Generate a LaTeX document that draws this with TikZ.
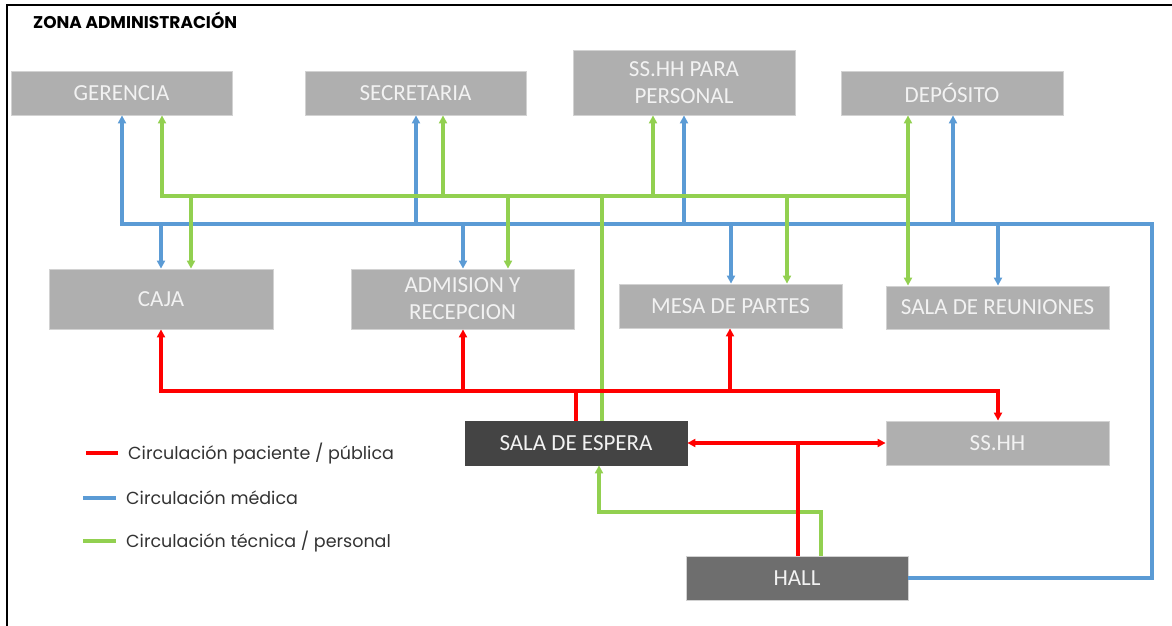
\documentclass[tikz,border=0pt]{standalone}
\usepackage{fontspec}
\setmainfont{Carlito}
\newfontfamily\legfont{Poppins}
\usetikzlibrary{arrows.meta}
\definecolor{boxgray}{HTML}{AFAFAF}
\definecolor{boxedge}{HTML}{D2D2D2}
\definecolor{boxtext}{HTML}{F2F2F2}
\definecolor{darkbox}{HTML}{444444}
\definecolor{hallbox}{HTML}{6E6E6E}
\definecolor{cred}{HTML}{FF0000}
\definecolor{cblue}{HTML}{5B9BD5}
\definecolor{cgreen}{HTML}{92D050}
\definecolor{legtext}{HTML}{333333}
\begin{document}
\begin{tikzpicture}[x=1pt,y=-1pt,
  room/.style={rectangle,fill=boxgray,draw=boxedge,line width=0.8pt,inner sep=0pt,
    text=boxtext,font=\fontsize{23}{27}\selectfont,align=center},
  darkroom/.style={room,fill=darkbox,draw=darkbox},
  hallroom/.style={room,fill=hallbox,draw=boxedge},
  flow/.style={line width=3.3pt,line join=miter},
  tip/.style={-{Triangle[length=8pt,width=8pt]}},
  tips/.style={{Triangle[length=8pt,width=8pt]}-{Triangle[length=8pt,width=8pt]}},
  pac/.style={flow,draw=cred},
  med/.style={flow,draw=cblue},
  tec/.style={flow,draw=cgreen},
  legline/.style={line width=3.3pt},
  legend/.style={anchor=west,inner sep=0pt,text=legtext,font=\legfont\fontsize{17.5}{20}\selectfont}]
\useasboundingbox (0,0) rectangle (1172,626);
\fill[white] (0,0) rectangle (1172,626);
% frame
\draw[line width=2pt] (7,626) -- (7,5) -- (1172,5);
\node[anchor=west,inner sep=0pt,font=\legfont\bfseries\fontsize{17}{19}\selectfont] (title) at (33,20) {ZONA ADMINISTRACIÓN};

% rooms
\node[room,minimum width=221pt,minimum height=44pt] (ger) at (121.5,93) {GERENCIA};
\node[room,minimum width=221pt,minimum height=44pt] (sec) at (415.5,93) {SECRETARIA};
\node[room,minimum width=222pt,minimum height=65pt] (ssp) at (684,82.5) {SS.HH PARA\\PERSONAL};
\node[room,minimum width=222pt,minimum height=44pt] (dep) at (952,93) {DEPÓSITO};
\node[room,minimum width=224pt,minimum height=60pt] (caja) at (161,299) {CAJA};
\node[room,minimum width=223pt,minimum height=60pt] (adm) at (462.5,299) {ADMISION Y\\RECEPCION};
\node[room,minimum width=223pt,minimum height=44pt] (mesa) at (730.5,306) {MESA DE PARTES};
\node[room,minimum width=223pt,minimum height=43pt] (reu) at (997.5,307.5) {SALA DE REUNIONES};
\node[darkroom,minimum width=222pt,minimum height=44pt] (esp) at (576,443) {SALA DE ESPERA};
\node[room,minimum width=223pt,minimum height=44pt] (ssh) at (997.5,443) {SS.HH};
\node[hallroom,minimum width=222pt,minimum height=44pt] (hall) at (797,578) {HALL};

% medical circulation (blue)
\coordinate (bL) at (122,224);
\coordinate (bR) at (1152,224);
\draw[med,tip] (hall.east) -| (bR) -- (bL) -- (bL |- ger.south);
\foreach \xx/\rm in {416/sec,684/ssp,953/dep}
  \draw[med,tip] (\xx,224) -- (\xx,224 |- \rm.south);
\foreach \xx/\rm in {161/caja,463/adm,731/mesa,998/reu}
  \draw[med,tip] (\xx,224) -- (\xx,224 |- \rm.north);

% technical / staff circulation (green)
\coordinate (gL) at (162,196);
\coordinate (gR) at (908,196);
\draw[tec,tip] (gR) -- (gL) -- (gL |- ger.south);
\foreach \xx/\rm in {443/sec,653/ssp,908/dep}
  \draw[tec,tip] (\xx,196) -- (\xx,196 |- \rm.south);
\foreach \xx/\rm in {191/caja,508/adm,787/mesa,908/reu}
  \draw[tec,tip] (\xx,196) -- (\xx,196 |- \rm.north);
\coordinate (gE) at (602,196);
\draw[tec] (gE) -- (gE |- esp.north);
\coordinate (gH) at (821,512);
\coordinate (gS) at (599,512);
\draw[tec,tip] (gH |- hall.north) -- (gH) -- (gS) -- (gS |- esp.south);

% patient / public circulation (red)
\coordinate (rL) at (161,391);
\coordinate (rR) at (998,391);
\draw[pac,tips] (rL |- caja.south) -- (rL) -- (rR) -- (rR |- ssh.north);
\foreach \xx/\rm in {463/adm,730/mesa}
  \draw[pac,tip] (\xx,391) -- (\xx,391 |- \rm.south);
\coordinate (rE) at (576,391);
\draw[pac] (rE |- esp.north) -- (rE);
\draw[pac,tips] (esp.east) -- (ssh.west);
\coordinate (rH) at (798,443);
\draw[pac] (rH |- hall.north) -- (rH);

% legend
\draw[legline,cred] (86,453) -- (118,453);
\node[legend] (l1) at (128,454) {Circulación paciente / pública};
\draw[legline,cblue] (83,498) -- (116,498);
\node[legend] (l2) at (126,498) {Circulación médica};
\draw[legline,cgreen] (83,541) -- (116,541);
\node[legend] (l3) at (126,542) {Circulación técnica / personal};
\end{tikzpicture}
\end{document}
